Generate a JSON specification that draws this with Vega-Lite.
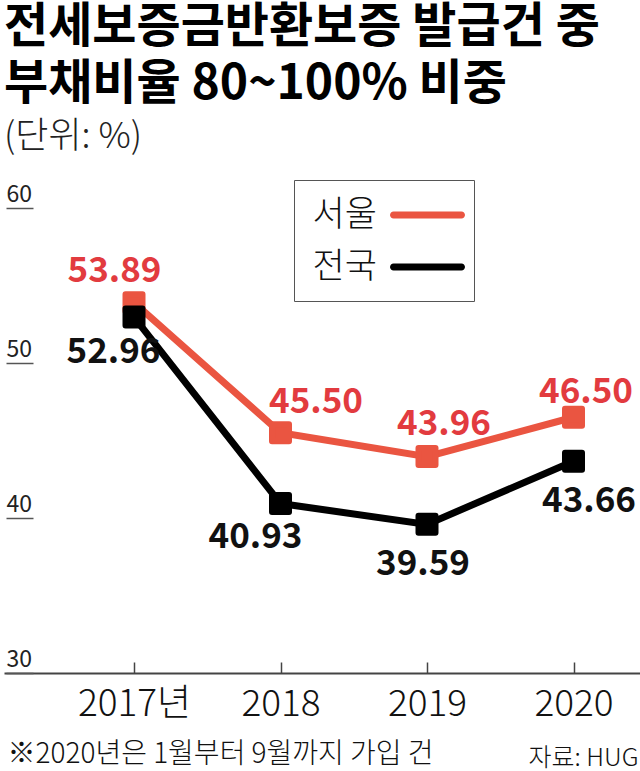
{
  "$schema": "https://vega.github.io/schema/vega-lite/v6.json",
  "width": 636,
  "height": 465,
  "autosize": {"type": "none"},
  "padding": {"left": 4, "top": 208, "right": 0, "bottom": 98},
  "background": "#ffffff",
  "config": {"view": {"stroke": null}},
  "title": {
    "text": ["전세보증금반환보증 발급건 중", "부채비율 80~100% 비중"],
    "subtitle": "(단위: %)",
    "anchor": "start",
    "frame": "group",
    "font": "Noto Sans CJK KR",
    "fontSize": 48,
    "fontWeight": "bold",
    "lineHeight": 57,
    "color": "#000000",
    "subtitleFont": "Noto Sans CJK KR",
    "subtitleFontSize": 36,
    "subtitleFontWeight": 300,
    "subtitleColor": "#222222",
    "subtitlePadding": 11,
    "offset": 25
  },
  "data": {
    "values": [
      {"year": 2017, "series": "서울", "value": 53.89},
      {"year": 2018, "series": "서울", "value": 45.50},
      {"year": 2019, "series": "서울", "value": 43.96},
      {"year": 2020, "series": "서울", "value": 46.50},
      {"year": 2017, "series": "전국", "value": 52.96},
      {"year": 2018, "series": "전국", "value": 40.93},
      {"year": 2019, "series": "전국", "value": 39.59},
      {"year": 2020, "series": "전국", "value": 43.66}
    ]
  },
  "encoding": {
    "x": {
      "field": "year",
      "type": "quantitative",
      "scale": {"domain": [2016.1126, 2020.4539], "nice": false, "zero": false},
      "axis": {
        "values": [2017, 2018, 2019, 2020],
        "labelExpr": "datum.value == 2017 ? '2017년' : '' + datum.value",
        "grid": false,
        "domain": true,
        "domainColor": "#444444",
        "domainWidth": 2,
        "ticks": true,
        "tickSize": -11,
        "tickColor": "#444444",
        "tickWidth": 1.5,
        "labelPadding": 24,
        "labelBaseline": "top",
        "labelFont": "Noto Sans CJK KR",
        "labelFontSize": 37,
        "labelFontWeight": 300,
        "labelColor": "#111111",
        "labelFlush": false,
        "labelOverlap": false,
        "title": "※2020년은 1월부터 9월까지 가입 건",
        "titleFont": "Noto Sans CJK KR",
        "titleFontSize": 28,
        "titleFontWeight": 300,
        "titleColor": "#111111",
        "titleAnchor": "start",
        "titleAlign": "left",
        "titleBaseline": "alphabetic",
        "titleX": 3,
        "titleY": 89
      }
    },
    "y": {
      "field": "value",
      "type": "quantitative",
      "scale": {"domain": [30, 60], "nice": false, "zero": false},
      "axis": {
        "values": [30, 40, 50, 60],
        "orient": "left",
        "offset": -29,
        "grid": false,
        "domain": false,
        "ticks": true,
        "tickSize": 27,
        "tickColor": "#555555",
        "tickWidth": 1.5,
        "labelAlign": "left",
        "labelPadding": 0,
        "labelBaseline": "alphabetic",
        "labelOffset": -7,
        "labelFont": "Noto Sans CJK KR",
        "labelFontSize": 23,
        "labelFontWeight": 400,
        "labelColor": "#222222",
        "title": "자료: HUG",
        "titleFont": "Noto Sans CJK KR",
        "titleFontSize": 25,
        "titleFontWeight": 300,
        "titleColor": "#111111",
        "titleAngle": 0,
        "titleAlign": "right",
        "titleBaseline": "alphabetic",
        "titleX": 605,
        "titleY": 557
      }
    }
  },
  "layer": [
    {
      "transform": [{"filter": "datum.series == '서울'"}],
      "mark": {"type": "line", "strokeWidth": 7, "color": "#EA5541"}
    },
    {
      "transform": [{"filter": "datum.series == '서울'"}],
      "mark": {"type": "point", "shape": "square", "filled": true, "size": 289, "opacity": 1, "stroke": "#EA5541", "strokeWidth": 6, "strokeJoin": "round"},
      "encoding": {
        "color": {
          "field": "series",
          "type": "nominal",
          "scale": {"domain": ["서울", "전국"], "range": ["#EA5541", "#000000"]},
          "legend": {
            "orient": "none",
            "legendX": 290,
            "legendY": -28,
            "title": null,
            "symbolType": "M3,0.96M2.481,-0.1346H5.096A0.1346,0.1346,0,0,1,5.096,0.1346H2.481A0.1346,0.1346,0,0,1,2.481,-0.1346Z",
            "symbolStrokeWidth": 0,
            "symbolSize": 2704,
            "symbolOpacity": 1,
            "labelAlign": "right",
            "labelBaseline": "middle",
            "labelOffset": 22,
            "labelFont": "Noto Sans CJK KR",
            "labelFontSize": 35,
            "labelFontWeight": 300,
            "labelColor": "#111111",
            "rowPadding": 1,
            "padding": 9,
            "strokeColor": "#555555",
            "fillColor": "#ffffff"
          }
        }
      }
    },
    {
      "transform": [{"filter": "datum.series == '전국'"}],
      "mark": {"type": "line", "strokeWidth": 7, "color": "#000000"}
    },
    {
      "transform": [{"filter": "datum.series == '전국'"}],
      "mark": {"type": "point", "shape": "square", "filled": true, "size": 289, "opacity": 1, "stroke": "#000000", "strokeWidth": 6, "strokeJoin": "round"},
      "encoding": {
        "color": {"field": "series", "type": "nominal"}
      }
    },
    {
      "transform": [{"filter": "datum.series == '서울' && datum.year == 2017"}],
      "mark": {"type": "text", "font": "Noto Sans CJK KR", "fontSize": 35, "fontWeight": "bold", "color": "#E23B3F", "align": "center", "baseline": "alphabetic", "dx": -19.5, "dy": -21},
      "encoding": {"text": {"field": "value", "type": "quantitative", "format": ".2f"}}
    },
    {
      "transform": [{"filter": "datum.series == '서울' && datum.year == 2018"}],
      "mark": {"type": "text", "font": "Noto Sans CJK KR", "fontSize": 35, "fontWeight": "bold", "color": "#E23B3F", "align": "center", "baseline": "alphabetic", "dx": 35.5, "dy": -20},
      "encoding": {"text": {"field": "value", "type": "quantitative", "format": ".2f"}}
    },
    {
      "transform": [{"filter": "datum.series == '서울' && datum.year == 2019"}],
      "mark": {"type": "text", "font": "Noto Sans CJK KR", "fontSize": 35, "fontWeight": "bold", "color": "#E23B3F", "align": "center", "baseline": "alphabetic", "dx": 17, "dy": -22},
      "encoding": {"text": {"field": "value", "type": "quantitative", "format": ".2f"}}
    },
    {
      "transform": [{"filter": "datum.series == '서울' && datum.year == 2020"}],
      "mark": {"type": "text", "font": "Noto Sans CJK KR", "fontSize": 35, "fontWeight": "bold", "color": "#E23B3F", "align": "center", "baseline": "alphabetic", "dx": 12.5, "dy": -14},
      "encoding": {"text": {"field": "value", "type": "quantitative", "format": ".2f"}}
    },
    {
      "transform": [{"filter": "datum.series == '전국' && datum.year == 2017"}],
      "mark": {"type": "text", "font": "Noto Sans CJK KR", "fontSize": 35, "fontWeight": "bold", "color": "#111111", "align": "center", "baseline": "alphabetic", "dx": -20.5, "dy": 46},
      "encoding": {"text": {"field": "value", "type": "quantitative", "format": ".2f"}}
    },
    {
      "transform": [{"filter": "datum.series == '전국' && datum.year == 2018"}],
      "mark": {"type": "text", "font": "Noto Sans CJK KR", "fontSize": 35, "fontWeight": "bold", "color": "#111111", "align": "center", "baseline": "alphabetic", "dx": -25, "dy": 44},
      "encoding": {"text": {"field": "value", "type": "quantitative", "format": ".2f"}}
    },
    {
      "transform": [{"filter": "datum.series == '전국' && datum.year == 2019"}],
      "mark": {"type": "text", "font": "Noto Sans CJK KR", "fontSize": 35, "fontWeight": "bold", "color": "#111111", "align": "center", "baseline": "alphabetic", "dx": -4, "dy": 50.5},
      "encoding": {"text": {"field": "value", "type": "quantitative", "format": ".2f"}}
    },
    {
      "transform": [{"filter": "datum.series == '전국' && datum.year == 2020"}],
      "mark": {"type": "text", "font": "Noto Sans CJK KR", "fontSize": 35, "fontWeight": "bold", "color": "#111111", "align": "center", "baseline": "alphabetic", "dx": 15.5, "dy": 51},
      "encoding": {"text": {"field": "value", "type": "quantitative", "format": ".2f"}}
    }
  ]
}
